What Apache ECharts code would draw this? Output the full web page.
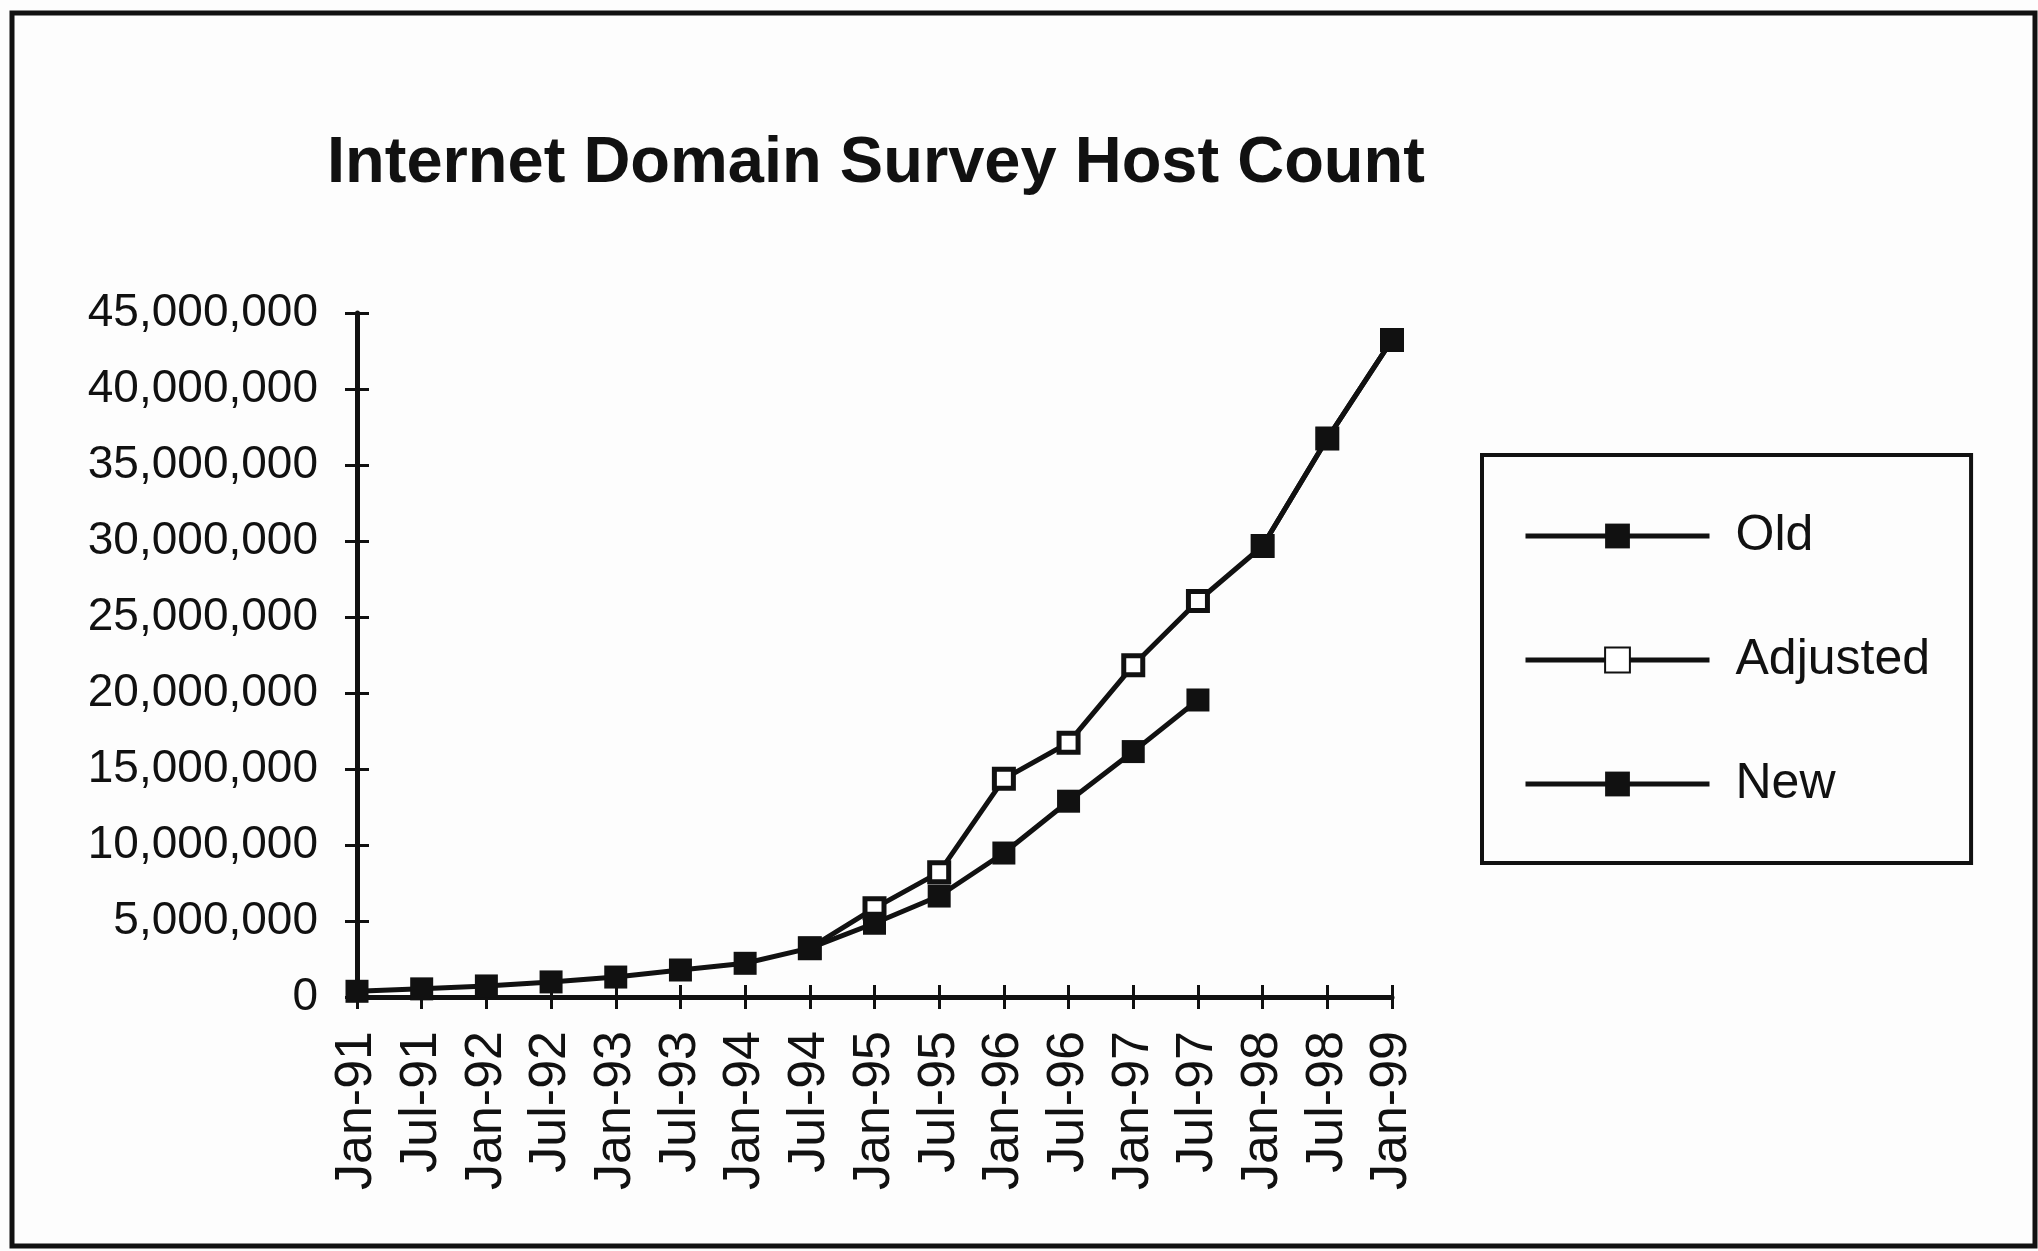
<!DOCTYPE html>
<html>
<head>
<meta charset="utf-8">
<script src="https://cdn.jsdelivr.net/npm/echarts@6/dist/echarts.min.js"></script>
<style>
  html, body { margin: 0; padding: 0; background: #fdfdfd; }
  #chart { width: 2038px; height: 1251px; }
</style>
</head>
<body>
<div id="chart"></div>
<script>
// categories on the x axis
var months = ['Jan-91', 'Jul-91', 'Jan-92', 'Jul-92', 'Jan-93', 'Jul-93', 'Jan-94', 'Jul-94',
  'Jan-95', 'Jul-95', 'Jan-96', 'Jul-96', 'Jan-97', 'Jul-97', 'Jan-98', 'Jul-98', 'Jan-99']
// host counts
var oldHosts = [376000, 535000, 727000, 992000, 1313000, 1776000, 2217000, 3212000,
  4852000, 6642000, 9472000, 12881000, 16146000, 19540000, null, null, null]
var adjustedHosts = [null, null, null, null, null, null, null, 3212000,
  5846000, 8200000, 14352000, 16729000, 21819000, 26053000, 29670000, 36739000, 43230000]
var newHosts = [null, null, null, null, null, null, null, null,
  null, null, null, null, null, null, 29670000, 36739000, 43230000]
var yTicks = { min: 0, max: 45000000, interval: 5000000 }

var font = "'Liberation Sans', Arial, sans-serif"
var chart = echarts.init(document.getElementById('chart'))

function fmt (v) {
  return String(v).replace(/\B(?=(\d{3})+(?!\d))/g, ',')
}

chart.setOption({
  backgroundColor: '#fdfdfd',
  animation: false,
  title: {
    text: 'Internet Domain Survey Host Count',
    left: 322,
    top: 127,
    textStyle: { fontFamily: font, fontSize: 65, fontWeight: 'bold', color: '#111' }
  },
  graphic: [{
    type: 'rect',
    shape: { x: 12, y: 13, width: 2023, height: 1233 },
    style: { fill: 'none', stroke: '#111', lineWidth: 5 },
    silent: true
  }],
  legend: {
    orient: 'vertical',
    left: 1482,
    top: 455,
    padding: [56, 41, 54, 41],
    borderColor: '#111',
    borderWidth: 4,
    itemWidth: 184,
    itemHeight: 31,
    itemGap: 74,
    data: ['Old', 'Adjusted', 'New'],
    lineStyle: { width: 5 },
    textStyle: { fontFamily: font, fontSize: 50, color: '#111', padding: [0, 0, 0, 21] }
  },
  grid: { left: 357, right: 646, top: 313, bottom: 254 },
  xAxis: [{
    type: 'category',
    data: months,
    boundaryGap: false,
    axisLine: { lineStyle: { color: '#111', width: 5 } },
    axisTick: { show: true, length: 12, interval: 0, lineStyle: { width: 3, color: '#111' } },
    axisLabel: { interval: 0, rotate: 90, margin: 34, fontFamily: font, fontSize: 52, color: '#111' }
  }, {
    type: 'category',
    data: months,
    boundaryGap: false,
    position: 'bottom',
    axisLine: { show: false },
    axisTick: { show: true, inside: true, length: 12, interval: 0, lineStyle: { width: 3, color: '#111' } },
    axisLabel: { show: false }
  }],
  yAxis: [{
    type: 'value',
    min: yTicks.min,
    max: yTicks.max,
    interval: yTicks.interval,
    splitLine: { show: false },
    axisLine: { show: true, lineStyle: { color: '#111', width: 5 } },
    axisTick: { show: true, length: 12, lineStyle: { width: 3, color: '#111' } },
    axisLabel: { margin: 39, fontFamily: font, fontSize: 46, color: '#111', formatter: fmt }
  }, {
    type: 'value',
    position: 'left',
    min: yTicks.min,
    max: yTicks.max,
    interval: yTicks.interval,
    splitLine: { show: false },
    axisLine: { show: false },
    axisTick: { show: true, inside: true, length: 12, lineStyle: { width: 3, color: '#111' } },
    axisLabel: { show: false }
  }],
  series: [{
    name: 'Adjusted',
    type: 'line',
    data: adjustedHosts,
    symbol: 'rect',
    symbolSize: 19,
    showAllSymbol: true,
    lineStyle: { color: '#111', width: 5 },
    itemStyle: { color: '#fff', borderColor: '#111', borderWidth: 5 }
  }, {
    name: 'Old',
    type: 'line',
    data: oldHosts,
    symbol: 'rect',
    symbolSize: 23,
    showAllSymbol: true,
    lineStyle: { color: '#111', width: 5 },
    itemStyle: { color: '#111' }
  }, {
    name: 'New',
    type: 'line',
    data: newHosts,
    symbol: 'rect',
    symbolSize: 23,
    showAllSymbol: true,
    lineStyle: { color: '#111', width: 5 },
    itemStyle: { color: '#111' }
  }]
})
</script>
</body>
</html>
